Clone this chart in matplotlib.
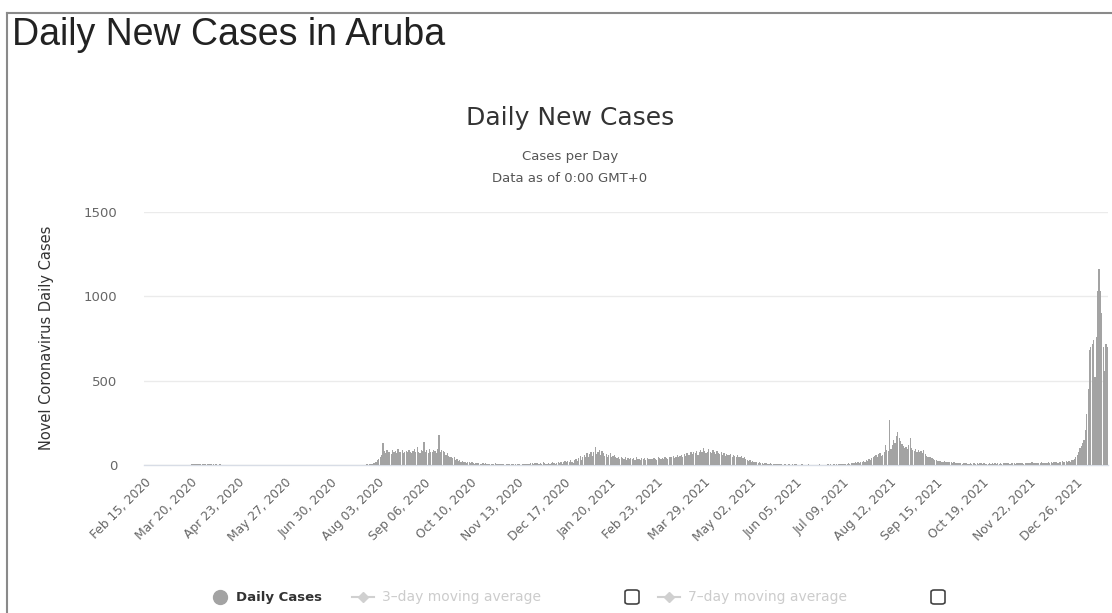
import matplotlib
matplotlib.use("Agg")
import matplotlib.pyplot as plt
from matplotlib.patches import FancyBboxPatch
from matplotlib.lines import Line2D
import numpy as np
import pandas as pd

# daily new cases in Aruba, one value per day from Feb 15, 2020
start_date = "2020-02-15"
daily_cases = [
    0, 0, 0, 0, 0, 0, 0,
    0, 0, 0, 0, 0, 0, 0,
    0, 0, 0, 0, 0, 0, 0,
    0, 0, 0, 0, 0, 0, 2,
    0, 1, 0, 1, 0, 0, 5,
    3, 6, 8, 4, 3, 6, 4,
    5, 8, 5, 2, 5, 3, 4,
    4, 3, 2, 3, 1, 2, 3,
    1, 1, 2, 0, 1, 0, 0,
    0, 1, 0, 0, 0, 0, 0,
    0, 0, 0, 0, 0, 0, 0,
    0, 0, 0, 0, 0, 0, 0,
    0, 0, 0, 0, 0, 0, 0,
    0, 0, 0, 0, 0, 0, 0,
    0, 0, 0, 0, 0, 0, 0,
    0, 0, 0, 0, 0, 0, 0,
    0, 0, 0, 0, 0, 0, 0,
    0, 0, 0, 0, 0, 0, 0,
    0, 0, 0, 0, 0, 0, 0,
    0, 0, 0, 0, 0, 0, 0,
    0, 0, 0, 0, 0, 0, 0,
    0, 0, 1, 0, 0, 0, 0,
    0, 1, 0, 0, 2, 0, 1,
    2, 4, 3, 5, 6, 8, 10,
    14, 20, 28, 35, 45, 60, 130,
    85, 70, 90, 75, 80, 65, 90,
    75, 85, 70, 95, 80, 75, 90,
    70, 80, 85, 75, 90, 80, 70,
    85, 95, 75, 108, 80, 70, 90,
    85, 138, 75, 90, 70, 95, 80,
    75, 90, 85, 70, 95, 178, 80,
    90, 85, 75, 60, 70, 55, 45,
    50, 40, 45, 30, 35, 25, 30,
    20, 25, 15, 20, 12, 18, 15,
    10, 15, 12, 8, 14, 10, 12,
    8, 6, 10, 5, 12, 8, 6,
    5, 8, 4, 6, 10, 4, 5,
    3, 6, 4, 5, 2, 4, 3,
    4, 2, 3, 5, 2, 3, 4,
    3, 5, 2, 4, 6, 3, 5,
    8, 5, 10, 12, 6, 9, 14,
    10, 6, 12, 8, 15, 10, 6,
    8, 12, 6, 10, 15, 9, 7,
    12, 20, 10, 15, 8, 18, 22,
    15, 25, 18, 30, 20, 12, 28,
    35, 25, 40, 55, 30, 45, 60,
    50, 70, 45, 65, 80, 55, 75,
    107, 65, 80, 90, 60, 85, 70,
    55, 65, 50, 60, 70, 45, 55,
    60, 45, 40, 50, 35, 45, 40,
    35, 45, 30, 40, 35, 42, 38,
    40, 32, 45, 35, 38, 30, 42,
    35, 40, 30, 44, 36, 38, 33,
    38, 42, 35, 30, 45, 40, 36,
    42, 35, 48, 40, 38, 45, 50,
    45, 55, 40, 50, 60, 48, 55,
    60, 50, 65, 55, 70, 62, 58,
    75, 65, 80, 70, 85, 60, 78,
    90, 75, 100, 85, 70, 80, 95,
    80, 70, 88, 75, 65, 82, 70,
    65, 75, 60, 72, 55, 68, 60,
    58, 65, 50, 62, 55, 48, 60,
    50, 45, 55, 40, 48, 35, 30,
    25, 30, 20, 22, 18, 15, 20,
    12, 15, 10, 14, 8, 12, 9,
    8, 6, 10, 5, 7, 4, 6,
    5, 3, 6, 4, 2, 5, 3,
    2, 4, 3, 1, 3, 2, 4,
    3, 2, 1, 2, 3, 1, 2,
    2, 1, 3, 2, 1, 2, 1,
    1, 2, 1, 3, 2, 1, 2,
    2, 1, 3, 2, 4, 2, 3,
    3, 5, 2, 4, 6, 3, 5,
    6, 8, 5, 10, 7, 12, 9,
    12, 15, 10, 18, 14, 20, 16,
    22, 18, 28, 25, 35, 30, 40,
    45, 55, 60, 50, 65, 70, 55,
    60, 75, 118, 90, 85, 267, 95,
    120, 148, 130, 170, 197, 160, 140,
    125, 110, 100, 108, 95, 120, 158,
    100, 89, 85, 92, 80, 88, 75,
    82, 70, 89, 65, 55, 49, 45,
    50, 40, 35, 30, 28, 25, 22,
    25, 20, 18, 22, 15, 20, 17,
    15, 18, 12, 16, 10, 14, 12,
    10, 12, 8, 14, 9, 11, 7,
    8, 10, 6, 12, 9, 7, 10,
    6, 9, 11, 7, 10, 8, 5,
    8, 12, 6, 9, 7, 10, 8,
    10, 7, 12, 8, 11, 9, 13,
    9, 12, 8, 14, 10, 11, 8,
    12, 9, 14, 10, 13, 8, 11,
    10, 13, 9, 12, 15, 10, 12,
    11, 14, 12, 10, 15, 13, 12,
    14, 12, 16, 11, 15, 13, 17,
    15, 18, 14, 20, 16, 22, 19,
    20, 22, 18, 25, 20, 28, 30,
    35, 45, 60, 80, 100, 115, 130,
    150, 207, 300, 450, 680, 700, 720,
    740, 520, 760, 1030, 1160, 1030, 900,
    700, 560, 720, 700,
]
y_ticks = [0, 500, 1000, 1500]
tick_step = 34

dates = pd.date_range(start_date, periods=len(daily_cases), freq="D")
x = np.arange(len(daily_cases))

W, H = 1112, 613
fig = plt.figure(figsize=(W / 100, H / 100), dpi=100)
fig.patch.set_facecolor("white")

ax = fig.add_axes([144 / W, 1 - 465 / H, (1108 - 144) / W, (465 - 212) / H])
ax.bar(x, daily_cases, width=0.9, color="#a3a3a3", linewidth=0, zorder=3)
ax.set_xlim(-0.5, len(daily_cases) - 0.5)
ax.set_ylim(0, 1500)

ax.set_yticks(y_ticks)
ax.set_yticklabels([str(v) for v in y_ticks])
ax.tick_params(axis="y", length=0, pad=19, labelsize=9.5, labelcolor="#666666")
ax.yaxis.grid(True, color="#ebebeb", linewidth=1, zorder=0)

tick_pos = x[::tick_step]
ax.set_xticks(tick_pos)
ax.set_xticklabels(dates[::tick_step].strftime("%b %d, %Y"), rotation=45,
                   ha="right", rotation_mode="anchor")
ax.tick_params(axis="x", length=0, pad=8, labelsize=8.8, labelcolor="#666666")

for s in ["top", "right", "left"]:
    ax.spines[s].set_visible(False)
ax.spines["bottom"].set_color("#d8dde6")
ax.spines["bottom"].set_linewidth(1)

# titles
fig.text(12 / W, 1 - 35 / H, "Daily New Cases in Aruba", fontsize=27,
         family="Liberation Sans", color="#222222", va="center", ha="left")
fig.text(570 / W, 1 - 118 / H, "Daily New Cases", fontsize=18,
         color="#333333", va="center", ha="center")
fig.text(570 / W, 1 - 157 / H, "Cases per Day", fontsize=9.5,
         color="#555555", va="center", ha="center")
fig.text(570 / W, 1 - 178 / H, "Data as of 0:00 GMT+0", fontsize=9.5,
         color="#555555", va="center", ha="center")
fig.text(47 / W, 1 - 338 / H, "Novel Coronavirus Daily Cases", fontsize=10.5,
         color="#333333", va="center", ha="center", rotation=90)

# legend drawn by hand
ly = 1 - 597 / H
fig.add_artist(Line2D([220 / W], [ly], marker="o", markersize=10,
                      color="#a3a3a3", transform=fig.transFigure))
fig.text(236 / W, ly, "Daily Cases", fontsize=9.5, fontweight="bold",
         color="#333333", va="center", ha="left")
fig.add_artist(Line2D([352 / W, 374 / W], [ly, ly], color="#d0d0d0", lw=1.5,
                      transform=fig.transFigure))
fig.add_artist(Line2D([363 / W], [ly], marker="D", markersize=5,
                      color="#d0d0d0", transform=fig.transFigure))
fig.text(382 / W, ly, "3\u2013day moving average", fontsize=10,
         color="#cccccc", va="center", ha="left")
fig.add_artist(Line2D([658 / W, 680 / W], [ly, ly], color="#d0d0d0", lw=1.5,
                      transform=fig.transFigure))
fig.add_artist(Line2D([669 / W], [ly], marker="D", markersize=5,
                      color="#d0d0d0", transform=fig.transFigure))
fig.text(688 / W, ly, "7\u2013day moving average", fontsize=10,
         color="#cccccc", va="center", ha="left")
for cx in [632, 938]:
    fig.add_artist(FancyBboxPatch(((cx - 7) / W, ly - 7 / H), 14 / W, 14 / H,
                                  boxstyle="round,pad=0,rounding_size=0.003",
                                  fc="white", ec="#444444", lw=1.2,
                                  transform=fig.transFigure))

# page frame
fig.add_artist(Line2D([7 / W, 1], [1 - 13 / H, 1 - 13 / H], color="#8a8a8a",
                      lw=1.5, transform=fig.transFigure))
fig.add_artist(Line2D([7 / W, 7 / W], [0, 1 - 13 / H], color="#8a8a8a",
                      lw=1.5, transform=fig.transFigure))

fig.savefig("out.png", dpi=100, facecolor="white")
